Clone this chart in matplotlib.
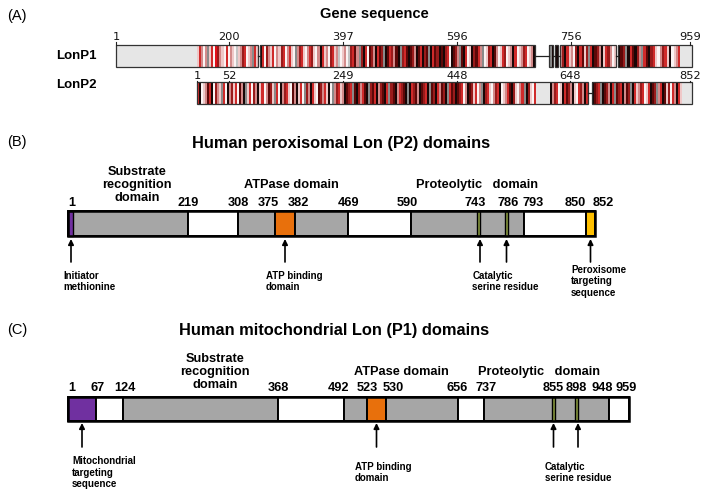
import numpy as np
import matplotlib.pyplot as plt
from matplotlib.patches import Rectangle

plt.rcParams['font.family'] = ['Liberation Sans', 'DejaVu Sans']

# ---------------- panel A: aligned conservation strips ----------------
lonp1_ticks = [1, 200, 397, 596, 756, 959]
lonp2_ticks = [1, 52, 249, 448, 648, 852]

# stripe codes, one char per stripe; '.' = unaligned (light grey)
lonp1_stripes = [
    "." * 40 + "lrpwpglrwRmplwrwplwslpmrwlpgrl",
    "krwmplrwplmrwprlwgpmrlwprmlwpkrlpwmrlpsw"
    "lpwsmrdpgmkrwdmpkrdmgkdrmpdkgmrdkdmpkdrkmdgkrdmk"
    "dkmrwkdmpgdkrwlkmdrpgwlmrkdpwlrmwlpkrwlpmrwlpk",
    "kgk",
    "kk",
    "pmkrlpwmkrdlmgrkdmpklrmpwl",
    "kdmgkrdkmpgrdkmrlwpmrlkwlpr" + "." * 5,
]
lonp2_stripes = [
    "rkwlpdrkwmplgrwkpmlrwdpkglrwmpklrwpdmlgrwkpmrlwdpklrwgmpkrlwdmprlkwgpmrl"
    "pkdmrgdkmprdkgmdrkpmdkrgmdkprmdkgkrmdpkdmrkgdmkrpdmkgrdm"
    "kdmrwpkdmlrwpgkmrlwpmrkwlprdkmlwprgkmlwr"
    + "." * 7 + "kpmrwlkrdmpklwrmpkr",
    "kdmrgkdmpkrgdmrkpdmgkrlpmrwlrkdmgprkdlmwrpkrl" + "." * 5,
]

# ---------------- panel B: peroxisomal Lon (P2) ----------------
p2_res = [1, 219, 308, 375, 382, 469, 590, 743, 786, 793, 850, 852]
p2_regions = [(1, 219, 'dom'), (219, 308, 'link'), (308, 375, 'dom'),
              (375, 382, 'atp'), (382, 469, 'dom'), (469, 590, 'link'),
              (590, 793, 'dom'), (793, 850, 'link'), (850, 852, 'pts')]
p2_sites = [(1, 'met'), (743, 'ser'), (786, 'ser')]
p2_notes = [(1, 'Initiator\nmethionine'), (378.5, 'ATP binding\ndomain'),
            (743, 'Catalytic\nserine residue'),
            (786, ''), (851, 'Peroxisome\ntargeting\nsequence')]

# ---------------- panel C: mitochondrial Lon (P1) ----------------
p1_res = [1, 67, 124, 368, 492, 523, 530, 656, 737, 855, 898, 948, 959]
p1_regions = [(1, 67, 'mts'), (67, 124, 'link'), (124, 368, 'dom'),
              (368, 492, 'link'), (492, 523, 'dom'), (523, 530, 'atp'),
              (530, 656, 'dom'), (656, 737, 'link'), (737, 948, 'dom'),
              (948, 959, 'link')]
p1_sites = [(855, 'ser'), (898, 'ser')]
p1_notes = [(34, 'Mitochondrial\ntargeting\nsequence'),
            (526.5, 'ATP binding\ndomain'),
            (855, 'Catalytic\nserine residue'), (898, '')]

# ---------------- layout (pixel space of the schematic) ----------------
lonp1_tick_x = [116, 229, 343, 457, 571, 690]
lonp2_tick_x = [197, 229, 343, 457, 570, 690]
lonp1_blocks = [(116, 258), (260, 535), (549, 553), (555, 558), (560, 616), (618, 692)]
lonp2_blocks = [(197, 588), (592, 692)]

p2_px = [68, 188, 238, 275, 295, 348, 411, 478.5, 506.5, 524, 586, 595]
p2_lab_dx = [4, 0, 0, -7, 3, 0, -4, -3, 1.5, 9, -11, 8]
p2_note_dx = [-7.5, -19, -7.5, 0, -19.5]
p1_px = [68, 96, 123, 278, 344, 367, 386, 458, 484, 553.5, 576.5, 609, 629]
p1_lab_dx = [4, 2, 2, 0, -5, 0, 7, -1, 2, 0, 0, -7, -3]
p1_note_dx = [-10, -21.5, -8.5, 0]

pal = {'.': '#e6e6e6', 'w': '#fbf4f4', 'l': '#efc8c8', 'p': '#d38a8a',
       'r': '#d02a2a', 'R': '#e3101a', 'm': '#9a1b1b', 'd': '#5c0808',
       'k': '#180606', 'g': '#8a8a8a', 's': '#c4c4c4'}
fills = {'dom': '#a6a6a6', 'link': 'white', 'atp': '#e8700c',
         'pts': '#ffc000', 'mts': '#7030a0', 'met': '#7030a0', 'ser': '#8a9a40'}

fig = plt.figure(figsize=(7.04, 4.97), dpi=100)
ax = fig.add_axes([0, 0, 1, 1])
ax.set_xlim(0, 704)
ax.set_ylim(497, 0)
ax.axis('off')


def strip_row(blocks, stripes, y0, y1):
    mid = (y0 + y1) / 2
    for i, ((x0, x1), s) in enumerate(zip(blocks, stripes)):
        w = (x1 - x0) / len(s)
        for code in set(s):
            segs = [(x0 + j * w, w) for j, c in enumerate(s) if c == code]
            ax.broken_barh(segs, (y0, y1 - y0), facecolors=pal[code], linewidth=0)
        ax.add_patch(Rectangle((x0, y0), x1 - x0, y1 - y0, fill=False,
                               edgecolor='#333333', lw=0.9))
        if i + 1 < len(blocks):
            ax.plot([x1, blocks[i + 1][0]], [mid, mid], color='#222222', lw=0.9)


def ticks(labels, xs, ytxt, ybar):
    for lab, x in zip(labels, xs):
        ax.text(x, ytxt, str(lab), ha='center', va='center', fontsize=8.2,
                family='DejaVu Sans', color='#111111')
        ax.plot([x, x], [ytxt + 4.5, ybar], color='#222222', lw=0.8)


ax.text(7, 16, '(A)', fontsize=10.5, va='center', ha='left')
ax.text(374, 14, 'Gene sequence', fontsize=10.5, weight='bold', ha='center', va='center')
ax.text(97, 56, 'LonP1', fontsize=9.5, weight='bold', ha='right', va='center')
ax.text(97, 85, 'LonP2', fontsize=9.5, weight='bold', ha='right', va='center')
strip_row(lonp1_blocks, lonp1_stripes, 45, 67)
strip_row(lonp2_blocks, lonp2_stripes, 82, 104)
ticks(lonp1_ticks, lonp1_tick_x, 37.5, 45)
ticks(lonp2_ticks, lonp2_tick_x, 76, 82)


def domain_bar(res, px, regions, sites, y0, y1):
    sc = lambda r: np.interp(r, res, px)
    for a, b, kind in regions:
        xa, xb = sc(a), sc(b)
        ax.add_patch(Rectangle((xa, y0), xb - xa, y1 - y0, facecolor=fills[kind],
                               edgecolor='black', lw=1.4))
    for r, kind in sites:
        x = sc(r)
        if kind == 'met':
            ax.add_patch(Rectangle((x, y0), 5, y1 - y0, facecolor=fills[kind],
                                   edgecolor='black', lw=1.0))
        else:
            ax.add_patch(Rectangle((x - 1.5, y0), 3, y1 - y0, facecolor=fills[kind],
                                   edgecolor='black', lw=1.0))
    ax.add_patch(Rectangle((px[0], y0), px[-1] - px[0], y1 - y0, fill=False,
                           edgecolor='black', lw=1.8))
    return sc


def bar_labels(res, px, dx, y):
    for r, x, d in zip(res, px, dx):
        ax.text(x + d, y, str(r), ha='center', va='center', fontsize=9.2, weight='bold')


def notes(sc, items, dx, ytop, ybot, ytxt, fixed=None):
    for (r, txt), d in zip(items, dx):
        x = sc(r)
        if fixed is not None and r in fixed:
            x = fixed[r]
        ax.annotate('', xy=(x, ytop), xytext=(x, ybot),
                    arrowprops=dict(arrowstyle='-|>', color='black', lw=1.2,
                                    mutation_scale=8, shrinkA=0, shrinkB=0))
        if txt:
            ax.text(x + d, ytxt, txt, ha='left', va='center', fontsize=7.0,
                    weight='bold', linespacing=1.2)


# panel B
ax.text(7, 142, '(B)', fontsize=10.5, va='center', ha='left')
ax.text(341, 143.5, 'Human peroxisomal Lon (P2) domains', fontsize=11.8,
        weight='bold', ha='center', va='center')
ax.text(137, 185, 'Substrate\nrecognition\ndomain', fontsize=9.2, weight='bold',
        ha='center', va='center', linespacing=1.15)
ax.text(291, 185, 'ATPase domain', fontsize=9.2, weight='bold', ha='center', va='center')
ax.text(477, 185, 'Proteolytic   domain', fontsize=9.2, weight='bold', ha='center', va='center')
bar_labels(p2_res, p2_px, p2_lab_dx, 202.5)
sc2 = domain_bar(p2_res, p2_px, p2_regions, p2_sites, 211, 236)
notes(sc2, p2_notes, p2_note_dx, 239, 262, 281.5, fixed={1: 71, 743: 480})

# panel C
ax.text(7, 330, '(C)', fontsize=10.5, va='center', ha='left')
ax.text(334, 331, 'Human mitochondrial Lon (P1) domains', fontsize=11.8,
        weight='bold', ha='center', va='center')
ax.text(215, 372, 'Substrate\nrecognition\ndomain', fontsize=9.2, weight='bold',
        ha='center', va='center', linespacing=1.15)
ax.text(401, 372, 'ATPase domain', fontsize=9.2, weight='bold', ha='center', va='center')
ax.text(539, 372, 'Proteolytic   domain', fontsize=9.2, weight='bold', ha='center', va='center')
bar_labels(p1_res, p1_px, p1_lab_dx, 388)
sc1 = domain_bar(p1_res, p1_px, p1_regions, p1_sites, 397, 421)
notes(sc1, p1_notes, p1_note_dx, 423, 447, 472.5, fixed={898: 578})

fig.savefig('out.png', dpi=100)
